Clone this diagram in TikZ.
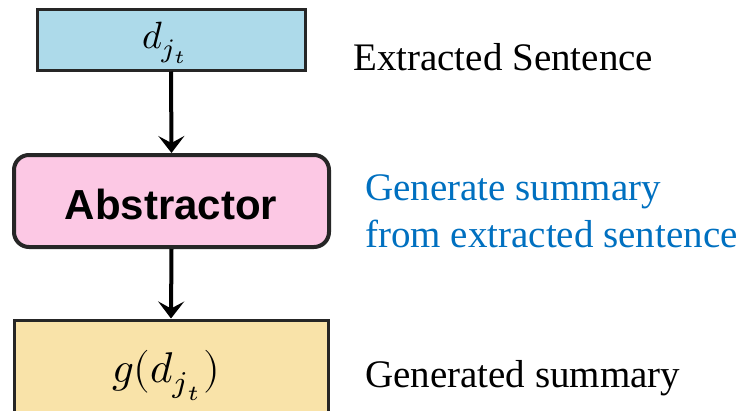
\documentclass[tikz,border=0pt]{standalone}
\usepackage{fontspec}
\usepackage{unicode-math}
\usepackage{graphicx}
\setmainfont{Liberation Serif}
\setmathfont{Latin Modern Math}
\newfontfamily\boldsans{Liberation Sans}
\usetikzlibrary{arrows.meta}
\definecolor{boxblue}{HTML}{ADDAEA}
\definecolor{boxpink}{HTML}{FCC8E4}
\definecolor{boxyellow}{HTML}{F9E3A9}
\definecolor{noteblue}{HTML}{0070C0}
\definecolor{edgegray}{HTML}{262626}
\begin{document}
\begin{tikzpicture}[x=1pt,y=-1pt,
  blockbox/.style={draw=edgegray, line width=3pt, inner sep=0pt},
  flow/.style={line width=4pt, -{Stealth[length=17pt,width=26pt,inset=7pt]}},
  note/.style={anchor=base west, inner sep=0pt, font=\fontsize{39}{47}\selectfont, align=left},
  mathlabel/.style={anchor=base west, inner sep=0pt}
]
\useasboundingbox (0,0) rectangle (750,410);
\node[blockbox, fill=boxblue, minimum width=268pt, minimum height=61pt] (d) at (171,39.5) {};
\node[mathlabel] (dt) at (142,48) {\scalebox{3.8}{$d_{j_t}$}};
\node[blockbox, fill=boxpink, line width=4pt, rounded corners=15pt, minimum width=315pt, minimum height=92pt] (abs) at (171.5,201) {};
\node[font=\boldsans\bfseries\fontsize{42}{50}\selectfont, inner sep=0pt] (abst) at (171,204) {Abstractor};
\node[blockbox, fill=boxyellow, minimum width=314pt, minimum height=100pt] (g) at (171,370) {};
\node[mathlabel] (gt) at (112,382) {\scalebox{4.3}{$g(d_{j_t})$}};
\draw[flow] (d.south) -- (abs.north);
\draw[flow] (abs.south) -- (g.north);
\node[note] (n1) at (353,70) {Extracted Sentence};
\node[note, text=noteblue] (n2) at (365,247) {Generate summary\\from extracted sentence};
\node[note] (n3) at (365,387) {Generated summary};
\end{tikzpicture}
\end{document}
